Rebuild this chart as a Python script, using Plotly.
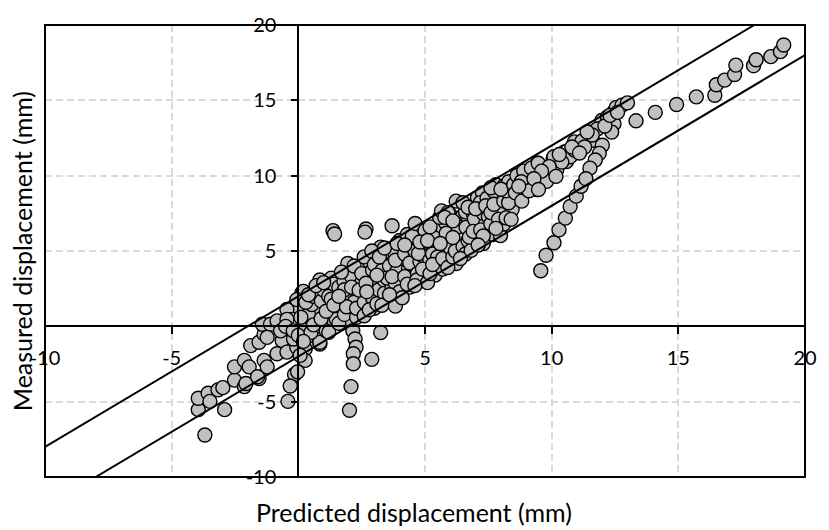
import plotly.graph_objects as go

# Axis limits and tick positions (0 is left unlabelled: the axes cross there)
x_range = [-10, 20]
y_range = [-10, 20]
x_ticks = [-10, -5, 5, 10, 15, 20]
y_ticks = [-10, -5, 5, 10, 15, 20]

# Half-width of the +/- band drawn around the 1:1 line (mm)
band_offset = 2.0

# Predicted vs. measured displacement (mm)
predicted = [
    # lower-left tail
    -3.69, -3.95, -2.91, -3.95, -3.56, -3.49, -3.17, -2.98, -2.52, -2.13,
    -2.07, -2.52, -2.13, -1.94, -1.55, -1.61, -1.35, -1.23, -1.88, -1.55,
    -1.35, -1.42, -1.10, -0.84, -1.23, -0.64, -0.84, -0.45, -0.38, -0.06,
    0.01, 0.46, 0.07, 0.33, 0.27, -0.06, 0.85, 0.59, 1.24, 1.56,
    0.79, 1.37, 1.69, -0.45, -0.25, -0.19, -0.45, -0.70, -0.50, -0.20, 0.00,
    # strand near zero prediction
    -0.15, -0.32, -0.41, 0.27, -0.03, 0.07,
    # strand near 2 mm prediction
    1.76, 2.02, 2.15, 2.24, 2.28, 2.17, 2.17, 2.08, 2.02, 2.90, 3.25,
    # isolated high readings
    1.37, 1.43, 2.67, 2.63, 3.70,
    # main cluster
    0.14, 0.20, -0.06, 0.40, 0.53, 0.85, 0.30, 0.60, 0.10, 0.50, 0.20, 0.90, 0.40,
    0.85, 0.91, 1.50, 1.50, 1.00, 1.20, 0.70, 1.30, 1.10, 0.60, 1.40, 0.90,
    1.10, 1.30, 1.60, 1.80, 1.20, 1.60, 1.90, 1.40, 1.00,
    1.82, 1.82, 1.95, 2.34, 2.10, 1.70, 2.40, 2.50, 2.20, 1.90, 2.50, 1.60, 2.30,
    2.10, 2.30, 2.60, 2.40, 2.70, 2.80, 2.20, 2.90, 3.00, 2.60, 2.50,
    2.60, 2.67, 2.93, 2.93, 3.18, 3.38, 3.25, 3.44, 2.80, 3.10, 3.00, 3.30,
    2.70, 3.50, 3.50, 2.90,
    3.20, 3.40, 3.60, 3.70, 3.90, 3.30, 3.50, 3.80, 3.10, 3.40, 3.90, 4.00,
    3.83, 3.83, 3.83, 4.35, 4.29, 3.70, 4.00, 4.20, 4.40, 3.90, 4.10, 4.50,
    4.50, 3.60, 4.30,
    4.20, 4.40, 4.60, 4.80, 4.30, 4.70, 4.90, 4.50, 4.20, 4.80, 5.00, 4.90,
    4.74, 4.68, 5.19, 5.07, 4.61, 5.00, 4.90, 5.30, 4.80, 5.40, 5.10, 5.50,
    4.60, 5.30, 5.50,
    5.20, 5.40, 5.60, 5.80, 5.20, 5.50, 5.70, 5.90, 5.30, 5.10, 5.80, 6.00, 5.95,
    5.58, 5.65, 5.84, 5.91, 6.23, 6.23, 5.78, 6.43, 6.49, 6.23, 5.84, 5.70,
    6.00, 6.30, 5.90, 6.10, 5.60, 6.40,
    6.20, 6.50, 6.30, 6.60, 6.10, 6.80, 6.60, 6.40, 6.90, 6.70, 6.10, 6.50,
    6.82, 7.07, 6.62, 7.07, 6.95, 7.27, 7.18, 7.40, 7.14, 6.75, 6.70, 7.30,
    6.90, 7.50, 7.45,
    7.20, 7.00, 7.30, 7.50, 7.70, 7.40, 7.90, 7.60, 7.80, 8.00, 7.30, 7.10,
    7.72, 7.60, 7.72, 7.98, 8.11, 8.11, 8.11, 8.44, 7.90, 8.30, 7.80, 8.20,
    8.50, 7.60, 8.30, 8.20, 8.40, 8.00, 8.50,
    # upper branch
    8.63, 8.57, 8.82, 9.02, 9.41, 9.41, 9.80, 9.44, 10.06, 10.51, 10.71,
    8.90, 9.20, 9.47, 10.09, 10.55, 10.58, 10.73, 10.90, 11.49, 11.61,
    12.00, 11.88, 11.72, 11.51, 11.98, 12.46, 12.37, 12.46, 12.55, 12.78,
    12.99, 13.33, 10.20, 10.90, 11.20, 11.30, 11.80, 12.20, 10.40, 9.90,
    8.80, 9.10, 9.60, 10.30, 10.80, 11.10, 11.60, 12.10, 12.30, 12.60,
    9.30, 8.70, 11.40,
    # lower branch
    9.57, 9.78, 10.09, 10.29, 10.54, 10.73, 10.97, 11.16, 11.35, 10.17, 9.48,
    # upper-right tail
    14.09, 14.93, 15.71, 16.44, 16.50, 16.83, 17.22, 17.27, 17.97, 18.07,
    18.65, 19.03, 19.16,
]

measured = [
    # lower-left tail
    -7.21, -5.53, -5.53, -4.77, -4.44, -4.98, -4.22, -4.07, -3.57, -4.00,
    -3.79, -2.69, -2.26, -2.69, -3.46, -3.35, -2.26, -2.69, -1.28, -1.06,
    -0.52, 0.14, 0.14, 0.36, -0.73, -0.95, -1.82, -1.71, 0.58, 0.36,
    1.12, 0.79, -0.08, -0.73, -1.50, -1.39, -1.17, 0.03, 0.25, 1.23,
    1.23, 0.90, 0.69, 1.12, 0.46, -0.84, 0.46, -0.30, 0.00, -0.30, -0.60,
    # strand near zero prediction
    -3.20, -3.96, -4.98, -2.26, -3.02, -1.93,
    # strand near 2 mm prediction
    0.90, 0.25, -0.29, -0.84, -1.39, -1.82, -2.48, -4.00, -5.57, -2.19, -0.41,
    # isolated high readings
    6.35, 6.13, 6.46, 6.25, 6.68,
    # main cluster
    2.21, 2.32, 1.77, 0.79, 1.45, -1.06, 1.60, 2.00, 0.60, -0.40, -1.00, 0.00, 2.10,
    3.08, 1.67, 1.56, 0.46, 2.40, 2.00, 2.70, 3.20, -0.30, 0.10, 2.80, 0.50,
    1.00, 1.80, 2.60, 3.00, -0.40, 0.20, 1.90, 1.40, 2.90,
    0.79, 2.43, 4.17, 2.21, 3.30, 3.60, 3.90, 1.20, 1.60, 1.30, 2.90, 2.00, 0.60,
    2.60, 1.20, 1.60, 2.40, 3.30, 4.30, 4.00, 2.70, 1.20, 0.70, 3.50,
    4.61, 2.86, 3.73, 1.88, 2.43, 3.08, 5.26, 4.50, 1.10, 1.50, 4.10, 3.70,
    2.30, 1.80, 5.00, 5.00,
    4.60, 2.20, 4.00, 2.60, 3.70, 1.40, 3.20, 4.90, 3.40, 5.20, 2.00, 5.70,
    4.39, 2.86, 1.34, 3.85, 5.92, 3.30, 2.30, 4.80, 2.60, 5.50, 1.90, 3.30,
    5.30, 2.10, 6.10,
    3.30, 4.20, 5.00, 4.30, 2.80, 3.50, 6.20, 6.00, 5.40, 3.00, 5.20, 4.70,
    4.83, 3.08, 4.39, 6.35, 6.83, 6.35, 3.80, 5.40, 5.60, 3.40, 2.90, 6.10,
    2.70, 4.80, 4.10,
    3.50, 5.90, 6.70, 4.80, 6.60, 4.60, 3.80, 5.90, 4.10, 5.70, 6.90, 7.40, 4.30,
    7.23, 7.66, 6.13, 7.55, 4.17, 8.31, 7.23, 7.23, 7.33, 6.79, 6.18, 4.50,
    5.20, 5.60, 3.90, 4.60, 5.50, 6.20,
    5.00, 5.30, 6.60, 7.60, 7.00, 6.60, 4.80, 4.50, 7.50, 5.70, 5.90, 8.20,
    5.04, 5.81, 6.57, 8.53, 7.12, 8.86, 8.21, 6.90, 5.81, 5.92, 7.90, 7.50,
    6.30, 6.20, 8.50,
    6.40, 7.80, 5.50, 7.30, 6.10, 8.00, 8.60, 6.80, 9.40, 7.60, 6.00, 5.40,
    8.97, 7.55, 8.10, 6.02, 6.79, 9.30, 8.31, 7.77, 7.10, 9.60, 6.50, 7.20,
    8.70, 9.20, 8.20, 9.00, 7.10, 9.10, 9.40,
    # upper branch
    10.01, 8.86, 8.31, 9.52, 9.08, 9.95, 9.62, 10.82, 11.15, 11.58, 11.26,
    10.30, 10.50, 10.82, 11.26, 11.58, 10.93, 11.26, 12.24, 12.89, 12.35,
    12.02, 11.48, 11.04, 10.50, 13.66, 13.44, 12.89, 14.24, 14.53, 14.68,
    14.83, 13.64, 10.40, 11.70, 12.30, 11.90, 13.10, 13.90, 10.90, 10.60,
    9.60, 9.00, 10.30, 11.40, 11.90, 11.50, 12.70, 13.30, 14.00, 14.20,
    9.80, 9.30, 12.90,
    # lower branch
    3.69, 4.72, 5.55, 6.40, 7.18, 7.95, 8.64, 9.30, 9.80, 9.95, 9.08,
    # upper-right tail
    14.20, 14.72, 15.23, 15.34, 16.03, 16.34, 16.71, 17.34, 17.30, 17.69,
    17.90, 18.23, 18.67,
]

FONT = "Lato"

fig = go.Figure()

fig.add_trace(go.Scatter(
    x=predicted, y=measured, mode="markers",
    marker=dict(size=14, color="#c0c0c0", line=dict(color="black", width=1.4)),
    hoverinfo="x+y",
))

# +/- band lines, clipped to the axis box
upper_x = [x_range[0], y_range[1] - band_offset]
lower_x = [y_range[0] + band_offset, x_range[1]]
fig.add_trace(go.Scatter(
    x=upper_x, y=[v + band_offset for v in upper_x], mode="lines",
    line=dict(color="black", width=2), hoverinfo="skip",
))
fig.add_trace(go.Scatter(
    x=lower_x, y=[v - band_offset for v in lower_x], mode="lines",
    line=dict(color="black", width=2), hoverinfo="skip",
))

# the axes cross at the origin
x_cross = (0 - x_range[0]) / (x_range[1] - x_range[0])
y_cross = (0 - y_range[0]) / (y_range[1] - y_range[0])

common = dict(
    showgrid=True, gridcolor="#d9d9d9", gridwidth=1.5, griddash="7px,4px",
    zeroline=False, showline=True, linecolor="black", linewidth=2,
    ticks="outside", tickcolor="black", tickwidth=1.5,
    tickfont=dict(family=FONT, size=20, color="black"),
    anchor="free",
)

fig.update_xaxes(
    range=x_range, tickvals=x_ticks, ticktext=[str(v) for v in x_ticks],
    position=y_cross, ticklen=7, ticklabelstandoff=7, **common,
)
fig.update_yaxes(
    range=y_range, tickvals=y_ticks, ticktext=[str(v) for v in y_ticks],
    position=x_cross, ticklen=6, ticklabelstandoff=11, **common,
)

# outer frame
fig.add_shape(type="rect", xref="paper", yref="paper", x0=0, y0=0, x1=1, y1=1,
              line=dict(color="black", width=2), layer="above")

fig.add_annotation(text="Predicted displacement (mm)", xref="paper", yref="paper",
                   x=0.486, y=-0.078, xanchor="center", yanchor="middle",
                   showarrow=False, font=dict(family=FONT, size=25, color="black"))
fig.add_annotation(text="Measured displacement (mm)", xref="paper", yref="paper",
                   x=-0.03, y=0.5, xanchor="center", yanchor="middle", textangle=-90,
                   showarrow=False, font=dict(family=FONT, size=25, color="black"))

fig.update_layout(
    width=829, height=530,
    margin=dict(l=45, r=14, t=18, b=53),
    paper_bgcolor="white", plot_bgcolor="white",
    showlegend=False,
)

fig.write_html("out.html")
